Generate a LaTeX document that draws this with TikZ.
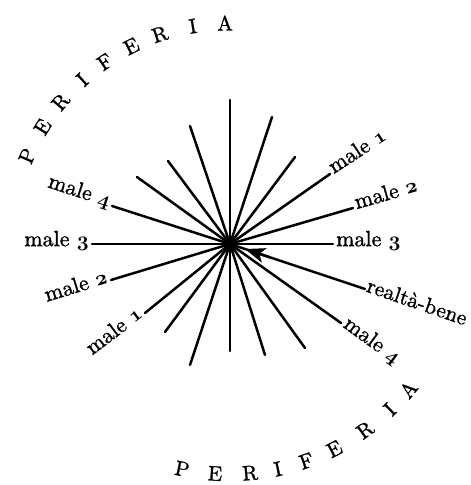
\documentclass[tikz,border=0pt]{standalone}
\usepackage{fontspec}
\setmainfont{lmroman10-regular.otf}[FakeBold=1.2]
\usetikzlibrary{arrows.meta,calc}
\newcommand\oldnum[1]{{\usefont{OML}{cmm}{b}{it}#1}}
\begin{document}
\begin{tikzpicture}[x=1pt,y=1pt,
  ray/.style={line width=2.5pt, line cap=round},
  lbl/.style={font=\fontsize{22}{26}\selectfont, inner sep=3pt},
  arcletter/.style={font=\fontsize{21}{25}\selectfont, inner sep=0pt}]
\useasboundingbox (0,0) rectangle (471,485);
\coordinate (c) at (230,241);
% ray end points
\coordinate (e1) at (230,385);
\coordinate (e2) at (272,368);
\coordinate (e3) at (295,328);
\coordinate (e4) at (330,311);
\coordinate (e5) at (353,277);
\coordinate (e6) at (333,241);
\coordinate (e7) at (365,196);
\coordinate (e8) at (341,162);
\coordinate (e9) at (305,137);
\coordinate (e10) at (265,130);
\coordinate (e11) at (230,134);
\coordinate (e12) at (190,120);
\coordinate (e13) at (165,153);
\coordinate (e14) at (145,172);
\coordinate (e15) at (111,205);
\coordinate (e16) at (92,241);
\coordinate (e17) at (112,279);
\coordinate (e18) at (137,308);
\coordinate (e19) at (168,324);
\coordinate (e20) at (190,359);
\foreach \e in {e1,e2,e3,e4,e5,e6,e7,e8,e9,e10,e11,e12,e13,e14,e15,e16,e17,e18,e19,e20}
  \draw[ray] (c) -- (\e);
\fill (c) circle (6);
% arrow toward the centre on the realta-bene ray
\draw[line width=2.5pt, -{Stealth[length=20pt, width=15pt, inset=5pt]}]
  ($(c)!0.30!(e7)$) -- ($(c)!0.112!(e7)$);
% right labels
\node[lbl, rotate=33, anchor=mid west] (r1) at (e4) {male \oldnum{1}};
\node[lbl, rotate=16, anchor=mid west] (r2) at (e5) {male \oldnum{2}};
\node[lbl, anchor=mid west] (r3) at (e6) {male \oldnum{3}};
\node[lbl, rotate=-19, anchor=mid west, inner sep=1pt, font=\fontsize{21.5}{26}\selectfont] (r4) at (e7) {realtà-bene};
\node[lbl, rotate=-36, anchor=mid west] (r5) at (e8) {male \oldnum{4}};
% left labels
\node[lbl, rotate=37, anchor=mid east] (l1) at (e14) {male \oldnum{1}};
\node[lbl, rotate=17, anchor=mid east] (l2) at (e15) {male \oldnum{2}};
\node[lbl, anchor=mid east] (l3) at (e16) {male \oldnum{3}};
\node[lbl, rotate=-18, anchor=mid east] (l4) at (e17) {male \oldnum{4}};
% PERIFERIA (top)
\foreach \ch/\a [count=\i] in {P/156.5,E/148,R/140,I/132,F/124.5,E/116.5,R/108.5,I/99.7,A/91.3}
  \node[arcletter, rotate=\a-90] (pu\i) at ($(c)+(\a:221)$) {\ch};
% PERIFERIA (bottom)
\foreach \ch/\a [count=\i] in {P/258,E/266.3,R/275,I/282,F/289.4,E/297,R/306,I/314,A/320.8}
  \node[arcletter, rotate=\a+90] (pl\i) at ($(c)+(\a:230)$) {\ch};
\end{tikzpicture}
\end{document}
